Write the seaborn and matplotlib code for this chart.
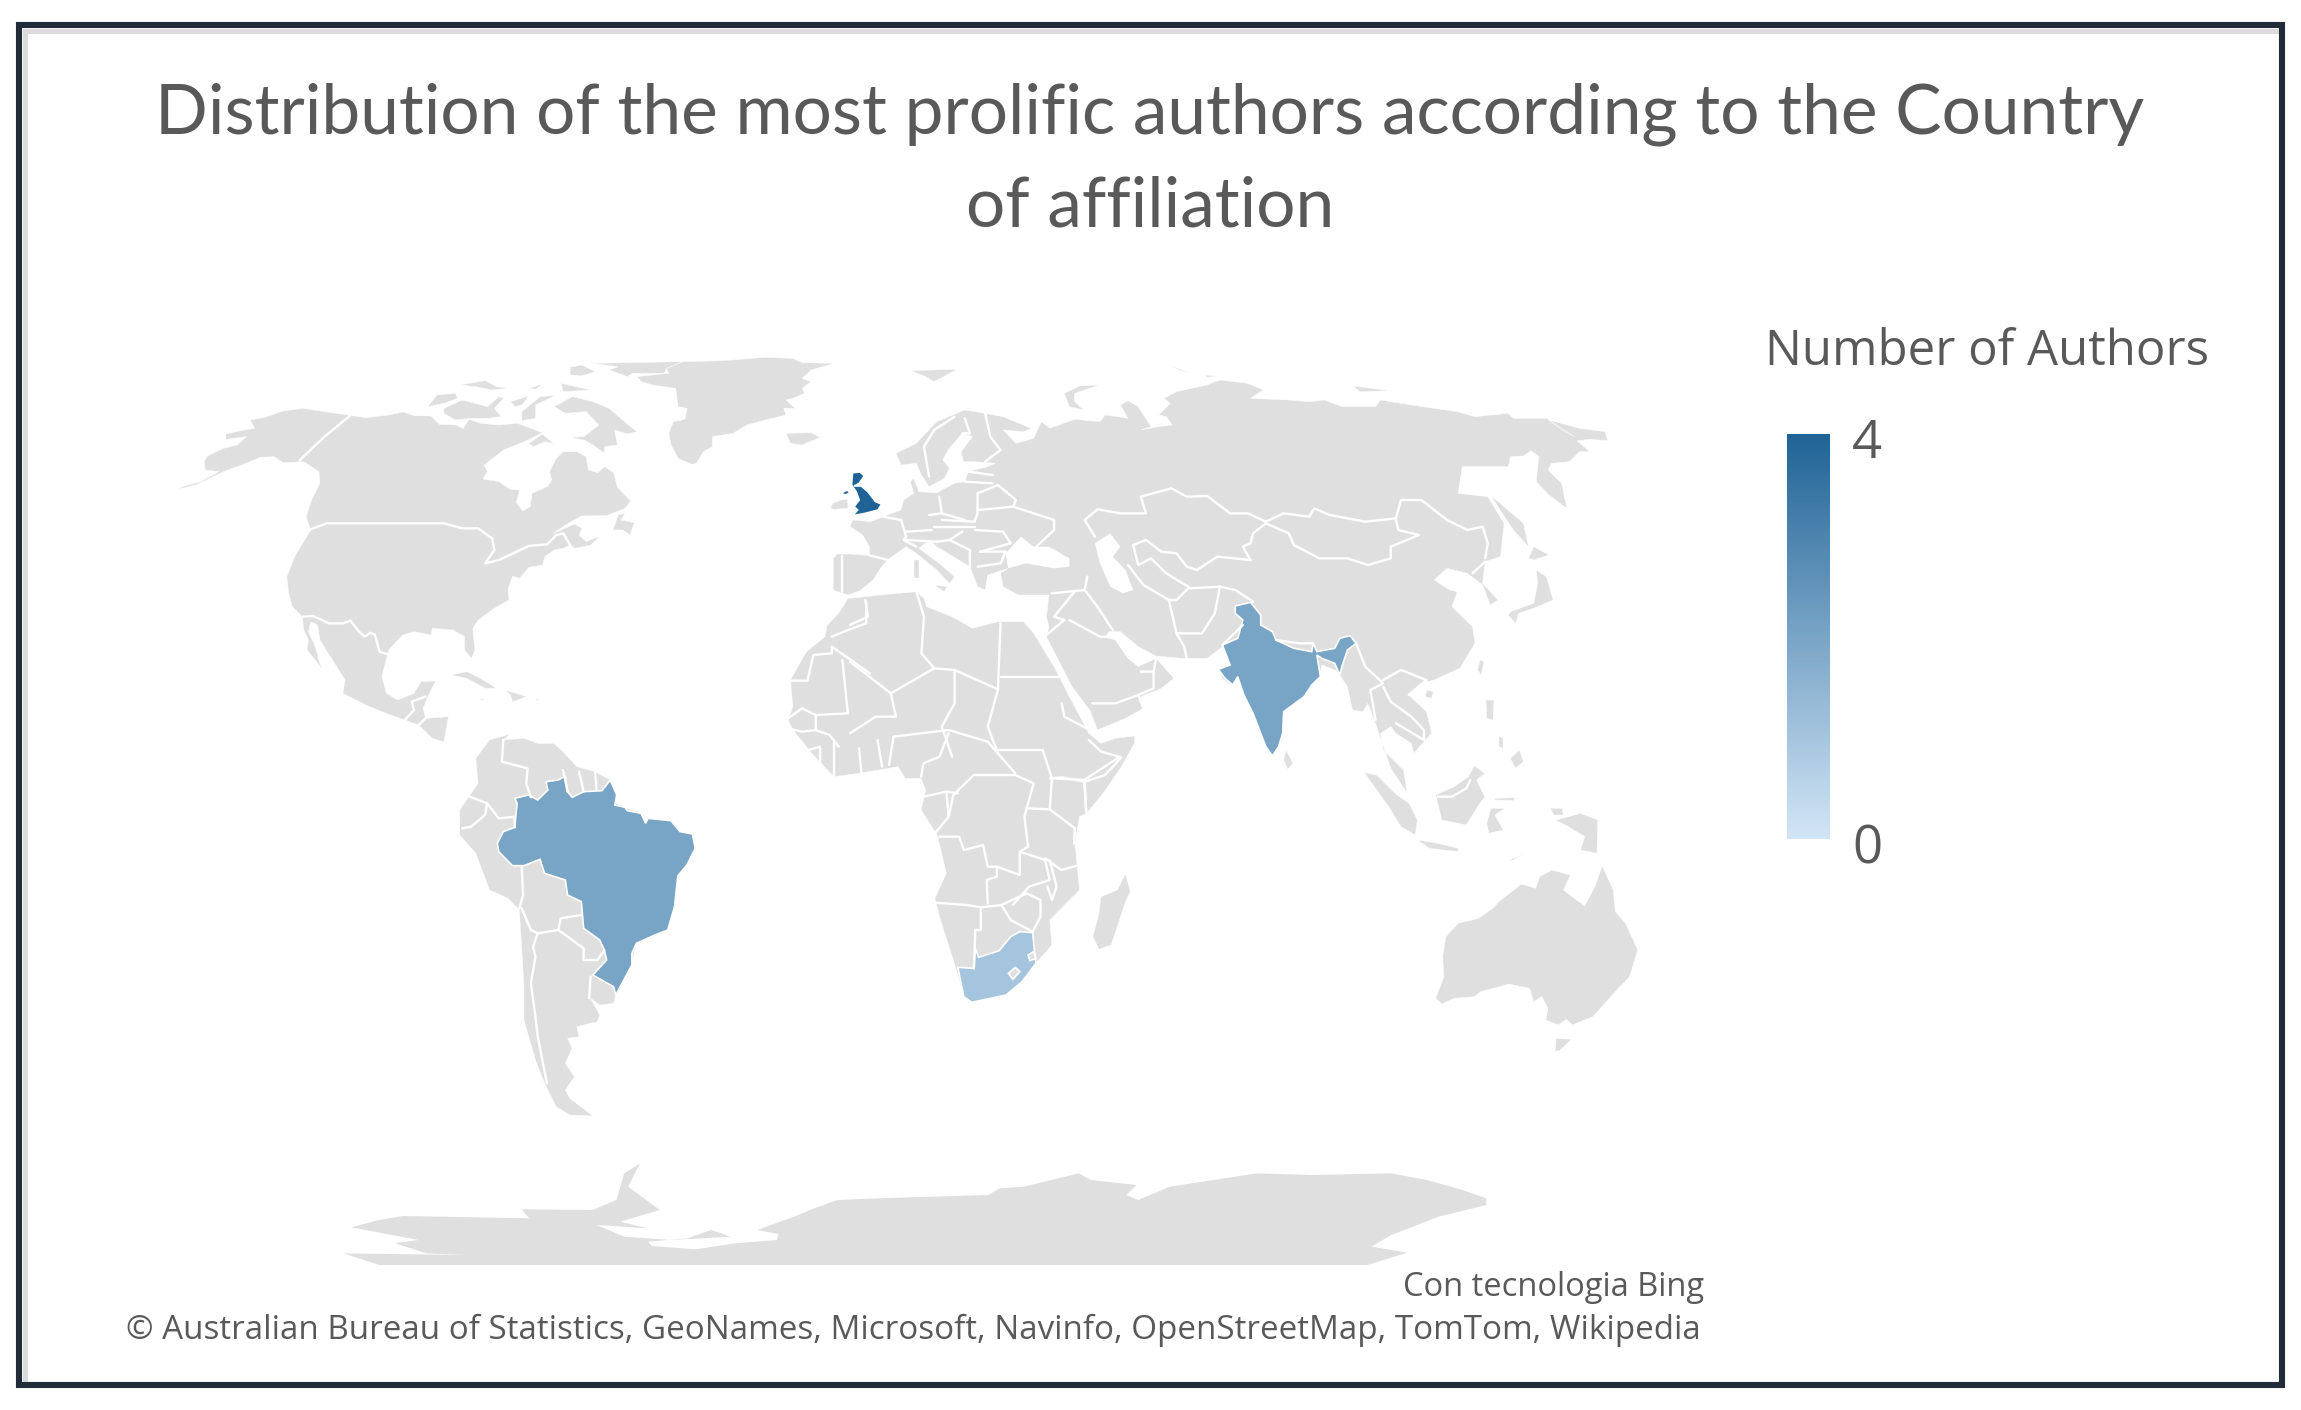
import numpy as np
import matplotlib
matplotlib.use('Agg')
import matplotlib.pyplot as plt
import seaborn as sns

# chart values
TITLE = 'Distribution of the most prolific authors according to the Country\nof affiliation'
LEGEND_TITLE = 'Number of Authors'
LEGEND_TICKS = [0, 4]
COUNTRIES = ['United Kingdom', 'India', 'Brazil', 'South Africa']
AUTHORS = [4, 2, 2, 1]
CREDIT_1 = 'Con tecnologia Bing'
CREDIT_2 = '© Australian Bureau of Statistics, GeoNames, Microsoft, Navinfo, OpenStreetMap, TomTom, Wikipedia'

PARTS = {'a': (150, 330, 2.178), 'b': (850, 350, 1.96), 'c': (400, 720, 2.178),
         'd': (1050, 700, 2.45), 'e': (300, 1130, 1.2645)}


def px(part, pts):
    x0, y0, sx = PARTS[part]
    return [(x0 + x / sx, y0 + y / 3) for x, y in pts]


N_AMERICA = px('a', [(60,478),(70,470),(110,455),(150,425),(120,420),(118,395),(125,378),(160,355),(190,345),(210,320),(165,328),(165,312),(205,300),(228,295),(218,270),(250,262),(290,243),(335,235),(365,242),(430,255),(470,263),(520,255),(552,246),(575,257),(612,258),(630,283),(668,285),(682,296),(695,268),(720,280),(760,285),(800,280),(855,308),(815,335),(770,360),(728,405),(735,425),(725,447),(760,455),(785,478),(805,480),(798,518),(812,543),(828,530),(832,490),(865,470),(875,450),(870,425),(885,385),(900,365),(930,365),(950,380),(955,420),(975,428),(990,410),(1010,428),(1018,472),(1047,513),(1035,535),(995,557),(940,558),(905,585),(878,610),(925,582),(940,595),(935,615),(950,635),(980,618),(960,645),(925,655),(915,645),(900,655),(880,660),(860,680),(855,705),(825,712),(805,745),(790,738),(780,775),(782,810),(750,835),(715,870),(703,895),(708,960),(700,985),(685,960),(685,920),(660,900),(615,895),(612,915),(575,905),(550,915),(520,960),(505,1040),(515,1090),(540,1110),(575,1090),(590,1055),(622,1053),(605,1100),(595,1135),(600,1165),(650,1160),(640,1236),(615,1225),(585,1185),(555,1170),(510,1148),(470,1125),(420,1090),(425,1050),(395,985),(370,930),(365,885),(350,875),(345,905),(360,950),(370,1000),(378,1022),(360,990),(342,960),(345,930),(335,900),(332,860),(310,830),(302,790),(298,740),(315,680),(350,600),(340,560),(352,510),(370,460),(368,425),(335,395),(290,398),(270,380),(240,382),(200,405),(160,425),(100,465)])
ARCTIC_ISLES = [px('a', p) for p in [
    [(880,230),(920,200),(965,215),(1000,235),(1025,265),(1060,305),(1040,312),(1012,300),(1018,345),(990,350),(990,370),(965,345),(945,330),(915,322),(945,320),(978,285),(950,245),(905,250)],
    [(605,230),(625,195),(665,190),(670,205),(640,220)],
    [(640,235),(680,210),(735,230),(760,200),(770,205),(750,235),(765,260),(735,265),(700,265),(665,270),(640,250)],
    [(785,215),(825,198),(810,225),(795,230)],
    [(810,245),(850,200),(885,195),(840,225),(840,265),(810,272)],
    [(960,100),(1160,95),(1125,115),(1120,130),(1050,130),(1040,140),(1000,120),(1020,110)],
    [(915,112),(940,105),(970,125),(940,138),(915,135)],
    [(895,160),(960,180),(900,185)],
    [(675,165),(730,152),(755,170),(780,175),(745,180),(710,170)],
    [(825,175),(855,162),(840,178)],
    [(825,340),(855,312),(880,342),(860,335),(835,350)],
    [(1008,600),(1020,555),(1035,550),(1025,570),(1055,578),(1045,615),(1030,600)],
    [(655,1035),(690,1025),(720,1045),(755,1075),(730,1075),(690,1045)],
    [(775,1080),(820,1100),(790,1115),(785,1095)],
    [(718,1105),(730,1110),(722,1112)],
    [(838,1107),(850,1108),(842,1111)],
    [(1385,310),(1440,308),(1460,322),(1420,345),(1395,340)],
    [(1482,535),(1487,520),(1505,510),(1518,508),(1520,520),(1520,535),(1490,538)],
]]
GREENLAND = px('a', [(1060,140),(1130,130),(1125,115),(1160,95),(1250,92),(1340,82),(1400,85),(1420,98),(1490,100),(1440,120),(1420,145),(1440,155),(1420,175),(1425,190),(1400,205),(1385,210),(1405,235),(1380,235),(1385,255),(1340,270),(1300,285),(1270,310),(1225,320),(1225,350),(1205,365),(1190,400),(1180,403),(1150,385),(1135,345),(1130,310),(1140,275),(1165,268),(1170,235),(1150,230),(1145,175),(1095,165),(1070,155)])
EURASIA = px('b', [(-33,690),(-33,625),(-25,612),(0,612),(38,616),(38,590),(25,555),(0,530),(5,510),(40,515),(65,500),(100,480),(105,450),(125,430),(118,395),(125,385),(135,425),(170,428),(205,400),(225,395),(232,365),(270,350),(285,340),(245,335),(222,335),(218,305),(240,260),(220,250),(192,300),(182,330),(195,355),(185,385),(155,410),(140,375),(130,340),(100,345),(90,310),(130,280),(170,215),(225,180),(265,190),(300,200),(355,235),(340,245),(300,240),(325,280),(360,265),(375,215),(392,235),(440,208),(490,215),(500,195),(545,205),(530,165),(545,152),(565,170),(590,230),(570,240),(605,230),(632,225),(620,200),(605,195),(628,160),(615,145),(640,125),(700,105),(725,90),(780,100),(810,120),(785,145),(860,150),(900,155),(930,150),(965,170),(1030,170),(1040,150),(1100,165),(1190,185),(1225,200),(1290,190),(1300,205),(1365,205),(1420,260),(1395,240),(1370,210),(1430,235),(1480,245),(1485,272),(1450,268),(1425,272),(1450,305),(1430,305),(1410,335),(1375,340),(1368,360),(1395,400),(1405,475),(1370,435),(1345,395),(1350,320),(1335,302),(1320,318),(1295,320),(1290,350),(1200,350),(1192,430),(1250,440),(1282,520),(1275,620),(1245,635),(1240,700),(1270,750),(1255,765),(1240,705),(1210,670),(1170,655),(1145,690),(1175,720),(1190,725),(1180,770),(1220,830),(1225,880),(1195,955),(1145,990),(1120,1000),(1095,1035),(1130,1085),(1140,1150),(1105,1210),(1100,1180),(1070,1150),(1060,1130),(1040,1150),(1045,1200),(1085,1260),(1092,1329),(1060,1255),(1030,1120),(1015,1060),(1005,1085),(985,1080),(975,1010),(960,975),(950,960),(925,945),(920,980),(900,1020),(850,1085),(848,1150),(828,1218),(815,1190),(790,1090),(770,1030),(760,980),(745,1005),(730,985),(722,955),(745,945),(730,890),(700,925),(650,925),(600,918),(565,890),(530,845),(508,845),(500,862),(520,870),(545,925),(565,950),(600,925),(635,985),(610,1015),(570,1040),(575,1075),(540,1105),(485,1140),(470,1080),(435,1010),(415,950),(385,860),(390,830),(385,800),(390,735),(330,735),(300,710),(295,670),(310,655),(270,675),(265,720),(250,710),(235,650),(170,590),(155,570),(135,595),(175,640),(205,680),(195,700),(170,660),(130,610),(110,590),(75,628),(62,650),(45,690),(20,722),(-4,735),(-33,720)])
EURASIA_WATER = [px('b', p) for p in [
    [(480,580),(510,550),(530,590),(515,620),(540,660),(555,720),(535,730),(510,710),(490,640)],
    [(305,610),(335,560),(360,590),(390,590),(430,625),(430,650),(400,655),(345,640),(310,655)],
]]
ASIA_ISLES = [px('b', p) for p in [
    [(1295,785),(1340,760),(1348,700),(1345,660),(1365,680),(1378,750),(1340,775),(1310,790),(1305,820),(1290,795)],
    [(1330,625),(1340,590),(1370,615),(1340,630)],
    [(1255,435),(1320,520),(1330,590),(1300,540)],
    [(1235,930),(1243,935),(1237,975),(1230,960)],
    [(1130,1020),(1143,1025),(1140,1045),(1128,1040)],
    [(855,1200),(868,1240),(858,1258),(850,1230)],
    [(120,62),(210,58),(165,95),(145,78)],
    [(420,130),(450,108),(490,105),(440,130),(440,155),(458,180),(430,170)],
    [(625,45),(670,70),(645,60)],
    [(695,75),(720,78),(700,82)],
    [(985,108),(1060,122),(1000,125)],
    [(125,630),(135,630),(135,685),(125,685)],
    [(165,705),(190,710),(185,725)],
]]
AFRICA = (px('a', [(1520,805),(1500,850),(1475,885),(1470,920),(1430,965),(1415,1000),(1395,1050),(1400,1130),(1390,1170),(1400,1200),(1430,1250)])
          + px('c', [(890,90),(945,170),(1000,160),(1085,140),(1100,175),(1135,175),(1145,210),(1135,270),(1170,345),(1190,460),(1165,535),(1175,590),(1205,720),(1230,835),(1245,847),(1310,830),(1385,730),(1420,675),(1415,600),(1480,510),(1470,370),(1480,290)])
          + px('d', [(90,340),(130,280),(175,200),(207,130),(207,108),(160,115),(125,130),(95,100)])
          + px('b', [(430,1040),(400,950),(360,850),(340,815),(290,815),(240,835),(200,800),(150,770),(145,745),(130,725),(60,735),(0,745)]))
MADAGASCAR = px('d', [(185,522),(197,575),(185,605),(150,735),(120,748),(105,710),(120,640),(125,590),(165,570)])
OCEANIA = [px('d', p) for p in [
    [(945,895),(965,830),(962,770),(970,710),(1000,670),(1050,655),(1085,625),(1100,605),(1155,552),(1190,565),(1200,530),(1230,510),(1275,525),(1258,570),(1310,618),(1335,560),(1353,498),(1380,570),(1385,635),(1410,670),(1440,750),(1420,830),(1385,875),(1330,950),(1280,975),(1265,958),(1245,975),(1215,960),(1220,925),(1205,890),(1185,905),(1175,865),(1125,852),(1055,875),(1040,890),(990,895),(960,912)],
    [(1240,1015),(1278,1018),(1250,1050),(1238,1055)],
    [(1240,360),(1300,340),(1342,360),(1340,460),(1300,450),(1310,410),(1270,380)],
    [(945,285),(990,260),(1025,230),(1040,197),(1065,220),(1045,240),(1065,290),(1045,325),(1020,375),(960,360)],
    [(770,218),(800,225),(850,285),(880,310),(900,360),(895,405),(860,380),(830,320)],
    [(900,420),(950,430),(1000,445),(1000,455),(930,445)],
    [(1070,370),(1080,325),(1115,325),(1090,345),(1110,390),(1075,400)],
    [(1068,0),(1088,0),(1085,60),(1070,55)],
    [(1128,175),(1150,150),(1160,185),(1140,205)],
    [(1100,110),(1110,115),(1110,145),(1100,140)],
    [(1120,485),(1160,460),(1135,480)],
    [(1090,295),(1140,293),(1135,302),(1090,300)],
    [(1225,325),(1255,325),(1258,345),(1235,345)],
]]
S_AMERICA = px('c', [(165,115),(195,60),(240,42),(225,60),(270,55),(300,70),(335,70),(355,95),(385,140),(425,155),(458,180),(470,250),(490,262),(525,280),(535,310),(540,295),(590,302),(610,335),(640,345),(643,385),(605,465),(600,560),(580,635),(515,670),(505,730),(470,825),(465,850),(435,855),(415,835),(435,885),(430,905),(385,920),(390,950),(365,955),(375,985),(360,1030),(380,1070),(360,1110),(370,1135),(420,1188),(370,1185),(340,1160),(315,1090),(295,1020),(270,900),(270,800),(260,570),(235,535),(195,510),(165,400),(130,345),(130,270),(170,190)])
ANTARCTICA = px('e', [(100,405),(1350,405),(1400,368),(1355,350),(1380,315),(1440,260),(1500,225),(1500,205),(1470,180),(1425,150),(1380,130),(1280,135),(1210,130),(1100,170),(1060,210),(1045,195),(1058,165),(1000,150),(985,130),(915,170),(885,175),(870,195),(730,205),(680,210),(650,235),(625,260),(578,300),(605,312),(603,330),(550,340),(500,358),(445,348),(440,335),(490,325),(520,300),(545,320),(470,330),(410,320),(375,285),(440,295),(405,275),(455,240),(415,170),(430,100),(410,130),(400,210),(370,240),(280,238),(290,265),(130,258),(100,270),(65,292),(150,330),(120,340),(160,370),(210,375),(55,370)])

UK = [px('b', [(5,368),(20,366),(28,378),(18,400),(8,408),(22,408),(35,425),(50,455),(62,462),(55,480),(30,490),(5,497),(15,480),(8,470),(18,450),(12,425),(3,405)]),
      px('a', [(1505,490),(1518,480),(1525,488),(1515,495)])]
INDIA = [px('b', [(755,768),(785,757),(805,795),(805,825),(828,845),(835,870),(870,895),(905,905),(908,880),(915,905),(950,895),(960,865),(980,857),(992,880),(975,900),(965,945),(960,975),(950,940),(925,925),(915,915),(922,980),(905,1005),(890,1040),(850,1085),(848,1150),(840,1190),(828,1218),(815,1190),(790,1090),(772,1035),(760,980),(750,1005),(735,985),(722,958),(745,945),(735,905),(730,885),(760,865),(770,810),(755,790)])]
BRAZIL = [px('c', [(360,168),(365,215),(375,232),(400,215),(440,212),(458,180),(472,225),(468,255),(490,262),(495,272),(525,280),(535,310),(540,295),(590,302),(610,335),(637,342),(643,385),(625,435),(605,468),(598,560),(583,630),(555,645),(515,670),(505,700),(505,735),(470,825),(465,800),(420,765),(450,720),(445,690),(435,660),(400,625),(395,545),(365,525),(360,480),(315,460),(305,418),(270,437),(245,437),(215,395),(212,370),(225,335),(250,322),(255,250),(250,235),(280,225),(300,240),(322,210),(318,185),(345,180)])]
SOUTH_AFRICA = [px('c', [(1215,742),(1250,745),(1253,685),(1260,712),(1305,692),(1330,650),(1350,635),(1378,638),(1382,695),(1385,730),(1355,785),(1320,825),(1245,847),(1228,830)])]
SA_ENCLAVES = [px('c', [(1325,760),(1340,742),(1350,755),(1335,778)]), px('c', [(1368,705),(1380,695),(1385,715),(1372,722)])]
SHAPES = {'United Kingdom': UK, 'India': INDIA, 'Brazil': BRAZIL, 'South Africa': SOUTH_AFRICA}

BORDERS_A = [
    [(435,258),(380,320),(325,392)],
    [(350,598),(385,580),(640,580),(680,595),(715,595),(745,625),(750,660),(730,700),(760,690),(825,648),(865,643),(885,615),(900,610),(917,650)],
    [(333,860),(355,858),(390,880),(420,880),(437,872),(455,905),(468,920),(480,908),(490,915),(500,965),(518,973)],
    [(600,1100),(570,1115),(575,1140),(555,1170)],
    [(600,1165),(585,1185)],
    [(1395,1052),(1432,1052),(1445,975),(1485,970),(1485,950),(1568,1030)],
    [(1485,920),(1520,900),(1560,880),(1560,815)],
    [(1508,990),(1520,1150),(1450,1155),(1420,1135),(1390,1165)],
    [(1450,1155),(1450,1200),(1480,1215),(1500,1250)],
    [(1390,1195),(1420,1205),(1450,1200)],
]
BORDERS_B = [
    [(-15,618),(-15,660),(-15,725)],
    [(38,616),(75,630)],
    [(65,500),(100,510),(110,560),(105,570),(130,590)],
    [(110,570),(170,575)],
    [(175,440),(180,490)],
    [(110,545),(160,540)],
    [(155,495),(180,490),(225,510)],
    [(250,430),(250,490),(245,510)],
    [(250,480),(320,470),(400,510),(400,540),(365,590)],
    [(250,430),(290,405),(325,450),(320,470)],
    [(225,395),(280,400)],
    [(232,365),(280,375)],
    [(265,190),(275,260),(295,300),(265,335)],
    [(205,200),(165,240),(145,290),(155,380)],
    [(225,205),(235,250),(220,250)],
    [(245,540),(300,545),(315,580),(255,605)],
    [(195,570),(235,600),(235,650)],
    [(255,605),(305,605),(295,640),(250,650)],
    [(165,530),(245,530)],
    [(180,510),(245,515)],
    [(170,575),(195,570),(220,545)],
    [(480,560),(460,510),(485,478),(530,490),(580,490),(570,440),(630,415),(660,440),(700,438),(745,490),(780,490),(815,515)],
    [(815,515),(850,490),(900,500),(910,475),(940,495),(1010,515),(1070,505),(1080,450),(1120,450),(1170,510),(1210,540),(1240,530),(1250,580),(1245,625)],
    [(815,520),(860,550),(870,585),(920,625),(975,625),(1015,645),(1060,625),(1060,590),(1115,555),(1075,540),(1070,510)],
    [(815,520),(790,550),(785,580),(770,590),(785,630)],
    [(555,585),(565,645)],
    [(555,585),(580,570),(610,605),(640,610),(660,650),(680,660),(720,620),(785,630)],
    [(565,645),(590,625),(620,670),(665,712),(640,750),(625,750),(575,705),(545,645)],
    [(625,750),(640,850),(690,850),(715,790),(725,710),(665,715)],
    [(725,710),(755,720)],
    [(660,925),(655,890),(640,850)],
    [(730,885),(770,825)],
    [(465,680),(460,720),(395,730)],
    [(460,720),(485,770),(515,840)],
    [(440,725),(400,800),(420,810),(385,855)],
    [(430,810),(490,860),(510,860)],
    [(570,965),(595,965),(595,1015),(565,1035),(520,1060),(475,1060)],
    [(600,925),(595,965)],
    [(565,1035),(575,1075)],
    [(755,720),(790,755)],
    [(992,880),(1010,950),(1045,1000),(1020,1020),(1030,1110)],
    [(1045,990),(1080,960),(1130,990),(1095,1035)],
    [(1045,1010),(1060,1055),(1100,1100),(1125,1140),(1125,1170),(1070,1120)],
    [(1220,670),(1245,635)],
    [(835,870),(880,880),(908,880)],
    [(0,935),(80,1030),(165,955),(205,960),(290,1018),(295,820)],
    [(295,982),(410,982)],
    [(130,725),(145,800),(140,910),(165,955)],
    [(80,1030),(90,1100),(50,1100),(0,1150)],
    [(205,960),(205,1060),(180,1130),(200,1220)],
    [(290,1018),(270,1130),(290,1210)],
    [(415,1060),(420,1100),(470,1140)],
    [(0,825),(35,800),(30,750)],
]
BORDERS_C = [
    [(225,60),(222,125),(278,145),(275,190),(285,232)],
    [(355,150),(365,215)],
    [(390,155),(400,215)],
    [(425,155),(428,212)],
    [(148,228),(190,250),(215,295),(250,290),(250,322)],
    [(190,250),(185,285),(155,320),(135,325)],
    [(265,440),(268,525),(260,565)],
    [(265,565),(285,630),(300,640),(345,630),(350,595),(395,585)],
    [(300,640),(290,680),(295,710),(285,790),(295,890),(300,950),(320,1090)],
    [(345,630),(400,685),(400,720),(430,720),(445,690)],
    [(415,770),(412,835)],
    [(1165,548),(1235,555),(1265,562),(1265,630),(1253,630),(1250,745)],
    [(1265,562),(1310,555),(1330,600),(1378,635)],
    [(1310,555),(1365,520),(1395,540),(1395,590),(1378,635)],
    [(1175,350),(1218,350),(1228,390),(1270,375),(1280,440),(1300,440),(1300,470),(1278,480),(1280,550)],
    [(1300,440),(1350,465),(1350,395),(1405,420),(1415,480),(1370,500),(1335,555)],
    [(1415,420),(1430,500),(1420,540),(1410,500)],
    [(1405,415),(1440,450),(1480,435)],
    [(1365,265),(1415,268),(1470,325),(1468,370)],
    [(1250,165),(1205,225),(1195,290),(1165,340)],
    [(1250,165),(1340,165),(1380,190),(1360,290),(1368,380),(1350,395)],
    [(1415,268),(1420,175),(1490,180),(1495,280)],
    [(1000,85),(1005,160)],
    [(1040,60),(1050,140)],
    [(1195,40),(1175,110),(1140,130),(1135,170)],
    [(1075,50),(1065,135)],
    [(945,70),(945,170)],
    [(890,90),(915,80),(915,125)],
    [(1140,230),(1190,215),(1215,220)],
    [(1190,215),(1195,290)],
    [(1075,50),(1195,30),(1280,65),(1340,160)],
    [(1300,90),(1400,90),(1420,175)],
    [(1490,180),(1568,110)],
]
BORDERS_D = [
    [(95,120),(125,155),(175,172),(135,225),(85,245),(30,232),(0,235)],
    [(85,245),(88,325)],
    [(950,290),(985,290),(1020,265),(1030,240)],
]

LAND = '#dfdfdf'
TEXT = '#595959'
low, high = '#d2e5f6', '#1f6396'

sns.set_theme(style='white')
plt.rcParams['font.family'] = ['Open Sans', 'DejaVu Sans']
cmap = sns.blend_palette([low, high], as_cmap=True)

fig = plt.figure(figsize=(23.01, 14.10), dpi=100)
ax = fig.add_axes([0, 0, 1, 1])
ax.set_xlim(0, 2301)
ax.set_ylim(1410, 0)
ax.axis('off')


def fill(pts, color, lw=1.2):
    arr = np.array(pts)
    ax.fill(arr[:, 0], arr[:, 1], facecolor=color, edgecolor='white', linewidth=lw, zorder=2)


for shape in [N_AMERICA, GREENLAND, EURASIA, AFRICA, MADAGASCAR, S_AMERICA] + ARCTIC_ISLES + ASIA_ISLES + OCEANIA:
    fill(shape, LAND, lw=0.3)
arr = np.array(ANTARCTICA)
ax.fill(arr[:, 0], arr[:, 1], facecolor=LAND, edgecolor='none', zorder=2)
for water in EURASIA_WATER:
    fill(water, 'white', lw=0)

for part, lines in [('a', BORDERS_A), ('b', BORDERS_B), ('c', BORDERS_C), ('d', BORDERS_D)]:
    for line in lines:
        arr = np.array(px(part, line))
        ax.plot(arr[:, 0], arr[:, 1], color='white', lw=1.7, zorder=3)

# countries with authors, coloured by count on the same 0-4 scale as the legend
for name, n in zip(COUNTRIES, AUTHORS):
    color = cmap(n / LEGEND_TICKS[-1])
    for shape in SHAPES[name]:
        fill(shape, color, lw=1.2)
for hole in SA_ENCLAVES:
    fill(hole, LAND, lw=1.2)

# frame, grey shadow only inside the top and left edges
ax.plot([24.5, 24.5, 2279], [1382, 30.5, 30.5], color='#dcdcdc', lw=3.6, solid_joinstyle='miter', zorder=4)
ax.add_patch(plt.Rectangle((19, 25), 2263, 1360, fill=False, edgecolor='#222b38', linewidth=4.4, zorder=5))

# texts
title_lines = TITLE.split('\n')
fig.text(1150 / 2301, 1 - 114 / 1410, title_lines[0], ha='center', va='center', fontsize=50,
         color=TEXT, family=['Lato', 'DejaVu Sans'])
fig.text(1150 / 2301, 1 - 207 / 1410, title_lines[1], ha='center', va='center', fontsize=50,
         color=TEXT, family=['Lato', 'DejaVu Sans'])
fig.text(1987 / 2301, 1 - 352 / 1410, LEGEND_TITLE, ha='center', va='center', fontsize=35.4, color=TEXT)
fig.text(1403 / 2301, 1 - 1287 / 1410, CREDIT_1, ha='left', va='center', fontsize=23.5, color=TEXT)
fig.text(126 / 2301, 1 - 1330 / 1410, CREDIT_2, ha='left', va='center', fontsize=23.87, color=TEXT)

# legend bar
cax = fig.add_axes([1787 / 2301, 1 - 839 / 1410, 43 / 2301, 405.5 / 1410])
grad = np.linspace(LEGEND_TICKS[-1], LEGEND_TICKS[0], 256).reshape(-1, 1)
sns.heatmap(grad, ax=cax, cmap=cmap, cbar=False, xticklabels=False, yticklabels=False,
            vmin=LEGEND_TICKS[0], vmax=LEGEND_TICKS[-1])
fig.text(1852 / 2301, 1 - 444 / 1410, str(LEGEND_TICKS[-1]), ha='left', va='center', fontsize=38, color=TEXT)
fig.text(1852 / 2301, 1 - 850 / 1410, str(LEGEND_TICKS[0]), ha='left', va='center', fontsize=38, color=TEXT)

fig.savefig('out.png', dpi=100)
